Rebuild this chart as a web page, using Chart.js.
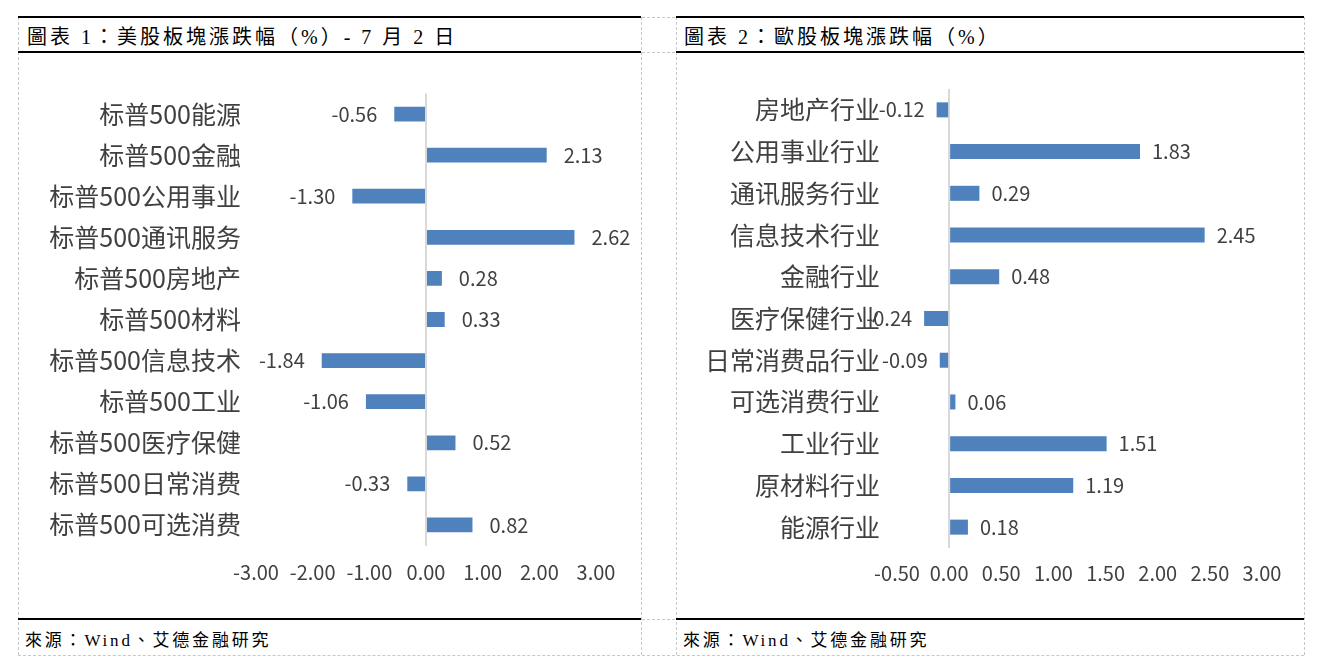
<!DOCTYPE html>
<html>
<head>
<meta charset="utf-8">
<script src="https://cdn.jsdelivr.net/npm/chart.js@4.4.1/dist/chart.umd.min.js"></script>
<style>
  body { margin: 0; background: #fff; width: 1317px; height: 671px; position: relative; overflow: hidden; }
  .hd { position: absolute; left: 18px; width: 1286px; height: 0; border-top: 1px dashed #c8c8c8; }
  .vd { position: absolute; top: 17px; height: 638px; width: 0; border-left: 1px dashed #c8c8c8; }
  .solid { position: absolute; height: 2px; background: #000; }
  .title { position: absolute; font: 20px "Liberation Serif", "Noto Sans CJK TC", serif; letter-spacing: 3px; color: #000; white-space: pre; }
  .foot { position: absolute; font: 17px "Liberation Serif", "Noto Sans CJK TC", serif; letter-spacing: 2.8px; color: #000; white-space: pre; }
  .box { position: absolute; top: 53px; height: 566px; }
</style>
</head>
<body>
<!-- dashed table grid -->
<div class="hd" style="top:17px"></div>
<div class="hd" style="top:52px"></div>
<div class="hd" style="top:619px"></div>
<div class="hd" style="top:655px"></div>
<div class="vd" style="left:18px"></div>
<div class="vd" style="left:641px"></div>
<div class="vd" style="left:676px"></div>
<div class="vd" style="left:1304px"></div>
<!-- solid rules -->
<div class="solid" style="left:18px;width:623px;top:16px"></div>
<div class="solid" style="left:18px;width:623px;top:51px"></div>
<div class="solid" style="left:18px;width:623px;top:618px"></div>
<div class="solid" style="left:676px;width:628px;top:16px"></div>
<div class="solid" style="left:676px;width:628px;top:51px"></div>
<div class="solid" style="left:676px;width:628px;top:618px"></div>

<div class="title" style="left:27px;top:21px">圖表 1：美股板塊漲跌幅（%）- 7 月 2 日</div>
<div class="title" style="left:684px;top:21px">圖表 2：歐股板塊漲跌幅（%）</div>
<div class="foot" style="left:25px;top:626px">來源：Wind、艾德金融研究</div>
<div class="foot" style="left:683px;top:626px">來源：Wind、艾德金融研究</div>

<div class="box" style="left:18px;width:623px"><canvas id="usChart"></canvas></div>
<div class="box" style="left:676px;width:628px"><canvas id="euChart"></canvas></div>

<script>
// 美股板块 (left chart)
const usLabels = ['标普500能源', '标普500金融', '标普500公用事业', '标普500通讯服务', '标普500房地产',
    '标普500材料', '标普500信息技术', '标普500工业', '标普500医疗保健', '标普500日常消费', '标普500可选消费'];
const usValues = [-0.56, 2.13, -1.30, 2.62, 0.28, 0.33, -1.84, -1.06, 0.52, -0.33, 0.82];
const usTicks = [-3, -2, -1, 0, 1, 2, 3];

// 欧股板块 (right chart)
const euLabels = ['房地产行业', '公用事业行业', '通讯服务行业', '信息技术行业', '金融行业', '医疗保健行业',
    '日常消费品行业', '可选消费行业', '工业行业', '原材料行业', '能源行业'];
const euValues = [-0.12, 1.83, 0.29, 2.45, 0.48, -0.24, -0.09, 0.06, 1.51, 1.19, 0.18];
const euTicks = [-0.5, 0, 0.5, 1, 1.5, 2, 2.5, 3];

const FONT = '"Noto Sans CJK SC", "Open Sans", sans-serif';
const BLUE = '#4f81bd';

// value labels at the outer end of each bar
const barLabels = {
    id: 'barLabels',
    afterDatasetsDraw(chart, args, opts) {
        const ctx = chart.ctx;
        const values = chart.data.datasets[0].data;
        ctx.save();
        ctx.font = '20px ' + FONT;
        ctx.fillStyle = '#404040';
        ctx.textBaseline = 'middle';
        chart.getDatasetMeta(0).data.forEach((bar, i) => {
            const v = values[i];
            ctx.textAlign = v < 0 ? 'right' : 'left';
            ctx.fillText(v.toFixed(2), bar.x + (v < 0 ? -opts.gap : opts.gap), bar.y);
        });
        ctx.restore();
    }
};

function makeChart(id, labels, values, ticks, cfg) {
    const ctx = document.getElementById(id).getContext('2d');
    return new Chart(ctx, {
        type: 'bar',
        data: {
            labels: labels,
            datasets: [{
                data: values,
                backgroundColor: BLUE,
                categoryPercentage: 1,
                barPercentage: 0.36
            }]
        },
        options: {
            indexAxis: 'y',
            responsive: true,
            maintainAspectRatio: false,
            animation: false,
            layout: { padding: { top: cfg.padTop, right: cfg.padRight, left: 0, bottom: 0 } },
            plugins: {
                legend: { display: false },
                tooltip: { enabled: false },
                barLabels: { gap: cfg.gap }
            },
            scales: {
                x: {
                    type: 'linear',
                    min: ticks[0],
                    max: ticks[ticks.length - 1],
                    afterBuildTicks: s => { s.ticks = ticks.map(v => ({ value: v })); },
                    afterFit: s => { s.height = cfg.xHeight; },
                    grid: {
                        drawTicks: false,
                        lineWidth: 2,
                        color: c => (c.tick && c.tick.value === 0 ? '#d9d9d9' : 'rgba(0,0,0,0)')
                    },
                    border: { display: false },
                    ticks: {
                        autoSkip: false,
                        maxRotation: 0,
                        padding: cfg.xPad,
                        color: '#404040',
                        font: { family: FONT, size: 20 },
                        callback: v => Number(v).toFixed(2)
                    }
                },
                y: {
                    afterFit: s => { s.width = cfg.yWidth; },
                    grid: { display: false, drawTicks: false },
                    border: { display: false },
                    ticks: {
                        autoSkip: false,
                        padding: cfg.yPad,
                        color: '#404040',
                        font: { family: FONT, size: 25 }
                    }
                }
            }
        },
        plugins: [barLabels]
    });
}

makeChart('usChart', usLabels, usValues, usTicks,
    { padTop: 40.5, padRight: 45, xHeight: 73.5, xPad: 15, yWidth: 238, yPad: 15, gap: 17 });
makeChart('euChart', euLabels, euValues, euTicks,
    { padTop: 36, padRight: 42, xHeight: 71, xPad: 13, yWidth: 221, yPad: 17, gap: 12 });
</script>
</body>
</html>
